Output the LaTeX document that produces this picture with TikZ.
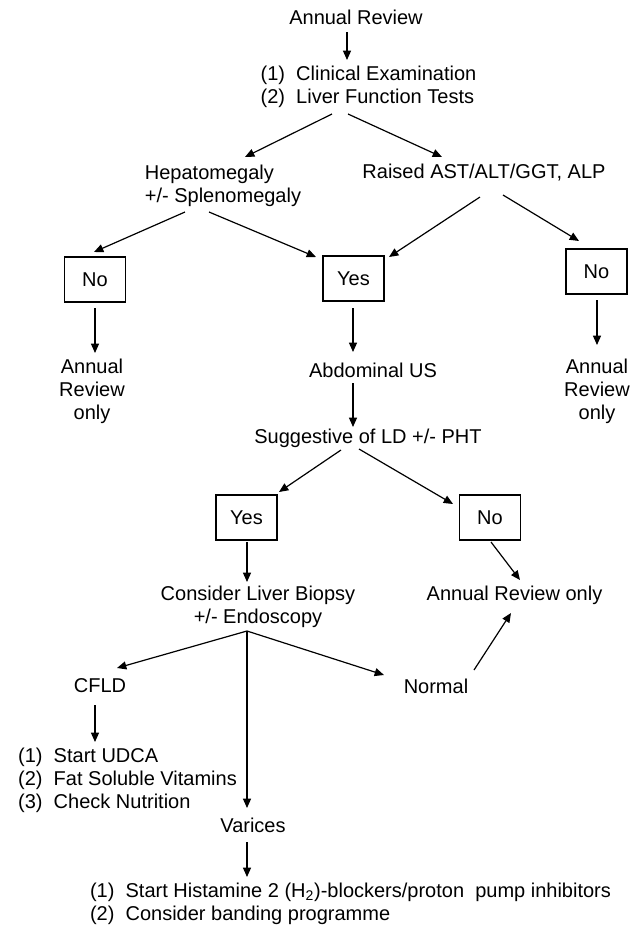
\documentclass[tikz,border=0pt]{standalone}
\usepackage{fontspec}
\setmainfont{Liberation Sans}
\usetikzlibrary{arrows.meta,calc}

\begin{document}
\begin{tikzpicture}[x=0.75pt,y=-0.75pt,
  txt/.style={inner sep=0pt, font=\fontsize{15}{17.25}\selectfont},
  box/.style={txt, draw, line width=1pt, minimum width=45.75pt, minimum height=33.75pt},
  arr/.style={line width=0.9pt, -{Triangle[length=7pt,width=6pt]}}]
\useasboundingbox (0,0) rectangle (632,926);

\node[txt] (rev) at (356,17) {Annual Review};
\node[txt, align=left] (clin) at (368.5,86.5) {(1)~~Clinical Examination\\(2)~~Liver Function Tests};
\node[txt, align=left] (hep) at (223,185.5) {Hepatomegaly\\+/- Splenomegaly};
\node[txt] (ast) at (484,173) {Raised AST/ALT/GGT, ALP};
\node[box] (no1) at (95,279.5) {No};
\node[box] (yes1) at (353.5,278.5) {Yes};
\node[box] (no2) at (596.5,271.5) {No};
\node[txt, align=center] (only1) at (92,391.5) {Annual\\Review\\only};
\node[txt] (us) at (373,370) {Abdominal US};
\node[txt, align=center] (only2) at (597,391.5) {Annual\\Review\\only};
\node[txt] (ld) at (368,438) {Suggestive of LD +/- PHT};
\node[box] (yes2) at (246.5,517.5) {Yes};
\node[box] (no3) at (490,517.5) {No};
\node[txt, align=center] (bx) at (258,606.5) {Consider Liver Biopsy\\+/- Endoscopy};
\node[txt] (only3) at (514.5,595) {Annual Review only};
\node[txt] (cfld) at (100,686) {CFLD};
\node[txt] (norm) at (436,686) {Normal};
\node[txt, align=left] (udca) at (127.5,780.5) {(1)~~Start UDCA\\(2)~~Fat Soluble Vitamins\\(3)~~Check Nutrition};
\node[txt] (var) at (253,825) {Varices};
\node[txt, align=left] (h2) at (350.5,903.5) {(1)~~Start Histamine 2 (H\textsubscript{2})-blockers/proton~~pump inhibitors\\(2)~~Consider banding programme};

\path[draw,arr] ($(rev)+(-9,15)$) -- ($(clin)+(-21.5,-26.5)$);
\path[draw,arr] ($(clin)+(-36.5,27.5)$) -- ($(hep)+(22,-28.5)$);
\path[draw,arr] ($(clin)+(-20.5,27.5)$) -- ($(ast)+(-42,-16)$);
\path[draw,arr] ($(hep)+(-38,26.5)$) -- ($(no1)+(-1,-27.5)$);
\path[draw,arr] ($(hep)+(-14,26.5)$) -- ($(yes1)+(-37.5,-21.5)$);
\path[draw,arr] ($(ast)+(-4,24)$) -- ($(yes1)+(35.5,-21.5)$);
\path[draw,arr] ($(ast)+(19,22)$) -- ($(no2)+(-17.5,-30.5)$);
\path[draw,arr] ($(no1)+(0,28.5)$) -- ($(only1)+(3,-38.5)$);
\path[draw,arr] ($(yes1)+(-0.5,29.5)$) -- ($(us)+(-20,-18)$);
\path[draw,arr] ($(no2)+(0.5,28.5)$) -- ($(only2)+(0,-46.5)$);
\path[draw,arr] ($(us)+(-20,13)$) -- ($(ld)+(-15,-11)$);
\path[draw,arr] ($(ld)+(-27,12)$) -- ($(yes2)+(32.5,-25.5)$);
\path[draw,arr] ($(ld)+(-9,11)$) -- ($(no3)+(-37,-13.5)$);
\path[draw,arr] ($(yes2)+(0.5,24.5)$) -- ($(bx)+(-11,-24.5)$);
\path[draw,arr] ($(no3)+(1,24.5)$) -- ($(only3)+(5.5,-15)$);
\path[draw,arr] ($(bx)+(-11,24.5)$) -- ($(cfld)+(17,-18)$);
\path[draw,arr] ($(bx)+(-11,24.5)$) -- ($(norm)+(-52,-11)$);
\path[draw,arr] ($(bx)+(-11,24.5)$) -- ($(var)+(-6,-17)$);
\path[draw,arr] ($(norm)+(38,-16)$) -- ($(only3)+(-3.5,18)$);
\path[draw,arr] ($(cfld)+(-5,19)$) -- ($(udca)+(-32.5,-38.5)$);
\path[draw,arr] ($(var)+(-6,17)$) -- ($(h2)+(-103.5,-26.5)$);
\end{tikzpicture}
\end{document}
